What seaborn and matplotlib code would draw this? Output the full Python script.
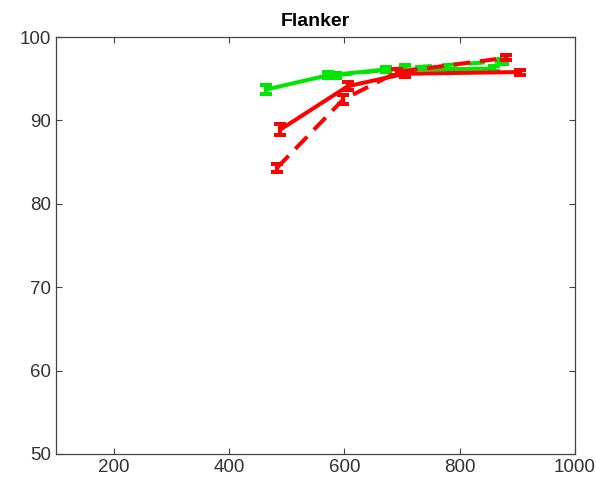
import pandas as pd
import numpy as np
import seaborn as sns
import matplotlib
matplotlib.use('Agg')
import matplotlib.pyplot as plt

# Values (RT on x, accuracy % on y)
green_solid_x = [464, 571, 672, 860]
green_solid_y = [93.7, 95.4, 96.1, 96.2]
green_solid_err = [0.5, 0.35, 0.35, 0.3]

green_dash_x = [585, 705, 876]
green_dash_y = [95.4, 96.3, 97.1]
green_dash_err = [0.3, 0.3, 0.3]

red_solid_x = [489, 606, 705, 905]
red_solid_y = [88.9, 94.1, 95.6, 95.8]
red_solid_err = [0.7, 0.5, 0.35, 0.3]

red_dash_x = [483, 598, 692, 880]
red_dash_y = [84.3, 92.5, 95.8, 97.5]
red_dash_err = [0.5, 0.5, 0.35, 0.3]

series = [
    ('green', 'solid', green_solid_x, green_solid_y, green_solid_err),
    ('green', 'dashed', green_dash_x, green_dash_y, green_dash_err),
    ('red', 'solid', red_solid_x, red_solid_y, red_solid_err),
    ('red', 'dashed', red_dash_x, red_dash_y, red_dash_err),
]
colors = {'green': '#00e600', 'red': '#ff0000'}

sns.set_style('ticks')
plt.rcParams['font.family'] = ['Liberation Sans', 'DejaVu Sans']

fig = plt.figure(figsize=(5.96, 4.92), dpi=100)
ax = fig.add_axes([56 / 596, 1 - 454 / 492, (575 - 56) / 596, (454 - 37) / 492])

for col, style, xs, ys, errs in series:
    df = pd.DataFrame({'x': xs, 'y': ys})
    sns.lineplot(data=df, x='x', y='y', ax=ax, color=colors[col], linewidth=2.9)
    line = ax.lines[-1]
    if style == 'dashed':
        line.set_dashes((4.2, 2.4))
    ax.errorbar(xs, ys, yerr=errs, fmt='none', ecolor=colors[col],
                elinewidth=2.9, capsize=4, capthick=2.9)

ax.set_xlim(100, 1000)
ax.set_ylim(50, 100)
ax.set_xticks([200, 400, 600, 800, 1000])
ax.set_yticks([50, 60, 70, 80, 90, 100])
ax.set_xlabel('')
ax.set_ylabel('')
ax.set_title('Flanker', fontsize=14, fontweight='bold', pad=8, color='black')

for s in ax.spines.values():
    s.set_visible(True)
    s.set_color('#444444')
    s.set_linewidth(0.9)
ax.tick_params(direction='in', top=True, right=True, length=4, width=0.8,
               colors='#444444', labelcolor='#333333', labelsize=13.5)

fig.savefig('out.png', dpi=100)
